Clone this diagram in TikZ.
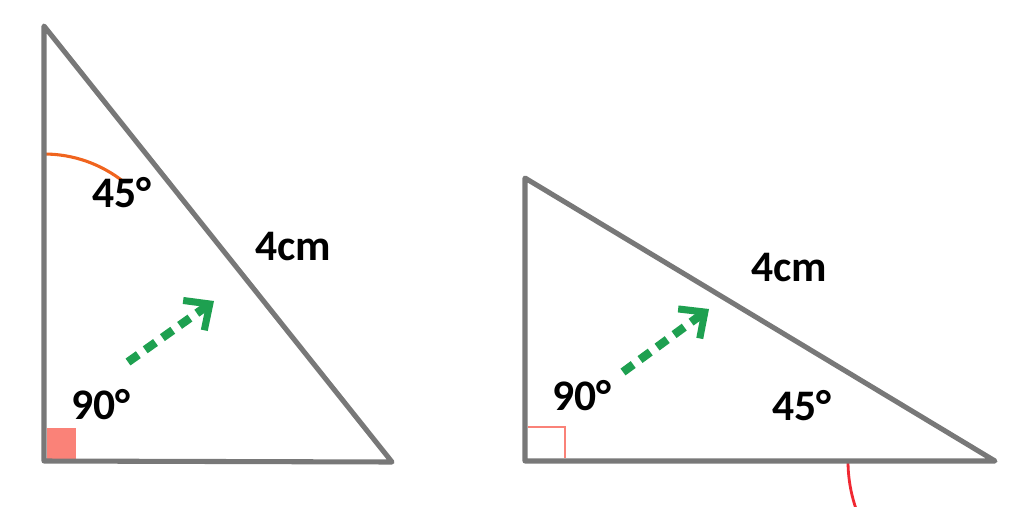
\documentclass[tikz,border=0pt]{standalone}
\usepackage{fontspec}
\setmainfont{Carlito}
\usetikzlibrary{arrows.meta}
\definecolor{edgegray}{RGB}{120,120,120}
\definecolor{markred}{RGB}{250,130,120}
\definecolor{arcorange}{RGB}{240,100,30}
\definecolor{arcred}{RGB}{240,40,50}
\definecolor{arrowgreen}{RGB}{30,160,80}
\tikzset{
  side/.style={edgegray, line width=3.6pt, line join=round},
  lbl/.style={font=\bfseries\fontsize{31}{36}\selectfont},
  movearrow/.style={arrowgreen, line width=6pt, dash pattern=on 9pt off 6pt,
    -{Straight Barb[length=14pt,width=26pt,line width=5pt]}}
}
\begin{document}
\begin{tikzpicture}[x=0.025cm, y=-0.025cm]
    \useasboundingbox (0,0) rectangle (1024,506);

    % left triangle
    \coordinate (ltop) at (44,26);
    \coordinate (lcorner) at (44,461);
    \coordinate (lright) at (392,462);
    \fill[markred] (47,428) rectangle (76,459);
    \draw[arcorange, line width=2.2pt] (44,154) arc[start angle=-90, end angle=-51.4, radius=128];
    \draw[side] (ltop) -- (lcorner) -- (lright) -- cycle;
    \node[lbl] (lang) at (122,193) {45°};
    \node[lbl] (lhyp) at (293,247) {4cm};
    \node[lbl] (lrt) at (101,405) {90°};
    \coordinate (lfrom) at (128,362);
    \coordinate (lto) at (214,301);
    \draw[movearrow] (lfrom) -- (lto);

    % right triangle
    \coordinate (rtop) at (525,178);
    \coordinate (rcorner) at (525,461);
    \coordinate (rright) at (995,461);
    \draw[markred, line width=2pt] (528,427) -- (565,427) -- (565,458);
    \draw[arcred, line width=2pt] (848,461) arc[start angle=180, end angle=149, radius=147];
    \draw[side] (rtop) -- (rcorner) -- (rright) -- cycle;
    \node[lbl] (rhyp) at (789,268) {4cm};
    \node[lbl] (rrt) at (582,396) {90°};
    \node[lbl] (rang) at (802,406) {45°};
    \coordinate (rfrom) at (623,372);
    \coordinate (rto) at (709,309);
    \draw[movearrow] (rfrom) -- (rto);
\end{tikzpicture}
\end{document}
